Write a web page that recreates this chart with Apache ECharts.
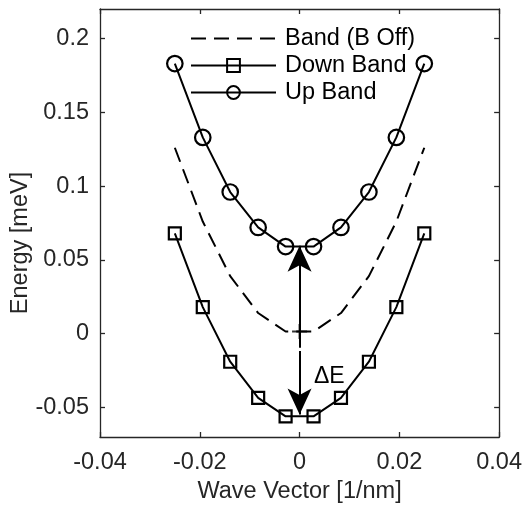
<!DOCTYPE html>
<html>
<head>
<meta charset="utf-8">
<script src="https://cdn.jsdelivr.net/npm/echarts@6/dist/echarts.min.js"></script>
<style>html,body{margin:0;padding:0;background:#fff;}#c{width:525px;height:509px;}</style>
</head>
<body>
<div id="c"></div>
<script>
const waveVector = [-0.025, -0.0194, -0.0139, -0.0083, -0.0028, 0.0028, 0.0083, 0.0139, 0.0194, 0.025];
const bandOff = [0.126, 0.076, 0.039, 0.014, 0.0015, 0.0015, 0.014, 0.039, 0.076, 0.126];
const downBand = [0.068, 0.018, -0.019, -0.0435, -0.056, -0.056, -0.0435, -0.019, 0.018, 0.068];
const upBand = [0.183, 0.133, 0.096, 0.072, 0.059, 0.059, 0.072, 0.096, 0.133, 0.183];
const xTicks = [-0.04, -0.02, 0, 0.02, 0.04];
const yTicks = [-0.05, 0, 0.05, 0.1, 0.15, 0.2];
const seriesNames = ['Band (B Off)', 'Down Band', 'Up Band'];
const upArrow = [[0, -0.0095], [0, 0.0596]];
const downArrow = [[0, -0.0118], [0, -0.0548]];
const centerMark = [[0, 0.0015]];

const pair = (xs, ys) => xs.map((x, i) => [x, ys[i]]);
const FONT = '"Liberation Sans", Arial, Helvetica, sans-serif';
const AX = '#262626';
const FS = 23.5;

const chart = echarts.init(document.getElementById('c'), null, {renderer: 'canvas'});
const axisCommon = {
  axisLine: {show: true, onZero: false, lineStyle: {color: AX, width: 1.3}},
  axisTick: {show: true, inside: true, length: 5, lineStyle: {color: AX, width: 1.3}},
  splitLine: {show: false}
};
chart.setOption({
  animation: false,
  backgroundColor: '#fff',
  grid: {left: 100, right: 24, top: 9, bottom: 68},
  legend: {
    orient: 'vertical', left: 190, top: 25, padding: 0,
    itemWidth: 85, itemHeight: 16, itemGap: 0,
    data: seriesNames,
    textStyle: {fontFamily: FONT, fontSize: FS, color: '#000', lineHeight: 27, padding: [0, 0, 0, 4]}
  },
  xAxis: [
    Object.assign({}, axisCommon, {
      type: 'value', min: -0.04, max: 0.04, position: 'bottom',
      axisTick: Object.assign({}, axisCommon.axisTick, {customValues: xTicks}),
      axisLabel: {customValues: xTicks, margin: 14, color: AX, fontFamily: FONT, fontSize: FS},
      name: 'Wave Vector [1/nm]', nameLocation: 'middle', nameGap: 43,
      nameTextStyle: {color: AX, fontFamily: FONT, fontSize: FS}
    }),
    Object.assign({}, axisCommon, {
      type: 'value', min: -0.04, max: 0.04, position: 'top',
      axisTick: Object.assign({}, axisCommon.axisTick, {customValues: xTicks}),
      axisLabel: {show: false}
    })
  ],
  yAxis: [
    Object.assign({}, axisCommon, {
      type: 'value', min: -0.07, max: 0.22, position: 'left',
      axisTick: Object.assign({}, axisCommon.axisTick, {customValues: yTicks}),
      axisLabel: {customValues: yTicks, margin: 11, color: AX, fontFamily: FONT, fontSize: FS}
    }),
    Object.assign({}, axisCommon, {
      type: 'value', min: -0.07, max: 0.22, position: 'right',
      axisTick: Object.assign({}, axisCommon.axisTick, {customValues: yTicks}),
      axisLabel: {show: false}
    })
  ],
  graphic: [
    {type: 'text', x: 21, y: 243, rotation: Math.PI / 2,
     style: {text: 'Energy [meV]', fontFamily: FONT, fontSize: FS, fill: AX, align: 'center', verticalAlign: 'middle'}},
    {type: 'text', x: 314, y: 377,
     style: {text: 'ΔE', fontFamily: FONT, fontSize: 23, fill: '#000', align: 'left', verticalAlign: 'middle'}}
  ],
  series: [
    {
      name: seriesNames[0], type: 'line', data: pair(waveVector, bandOff),
      symbol: 'none', lineStyle: {color: '#000', width: 2, type: [15, 8]},
      itemStyle: {color: 'rgba(0,0,0,0)', borderWidth: 0},
      z: 2
    },
    {
      name: seriesNames[1], type: 'line', data: pair(waveVector, downBand),
      symbol: 'rect', symbolSize: 12, showSymbol: true,
      lineStyle: {color: '#000', width: 2},
      itemStyle: {color: 'rgba(255,255,255,0)', borderColor: '#000', borderWidth: 2.2},
      z: 3
    },
    {
      name: seriesNames[2], type: 'line', data: pair(waveVector, upBand),
      symbol: 'circle', symbolSize: 15.5, showSymbol: true,
      lineStyle: {color: '#000', width: 2},
      itemStyle: {color: 'rgba(255,255,255,0)', borderColor: '#000', borderWidth: 2.2},
      z: 3,
      markLine: {
        silent: true, symbol: ['none', 'arrow'], symbolSize: [18, 26],
        label: {show: false},
        lineStyle: {color: '#000', width: 2, type: 'solid'},
        data: [
          [{coord: upArrow[0]}, {coord: upArrow[1]}],
          [{coord: downArrow[0]}, {coord: downArrow[1]}]
        ]
      }
    },
    {
      name: 'center', type: 'scatter', data: centerMark,
      symbol: 'path://M0,7.5L15,7.5M7.5,0L7.5,15', symbolSize: 15,
      itemStyle: {color: 'rgba(0,0,0,0)', borderColor: '#000', borderWidth: 2},
      z: 4
    }
  ]
});
</script>
</body>
</html>
